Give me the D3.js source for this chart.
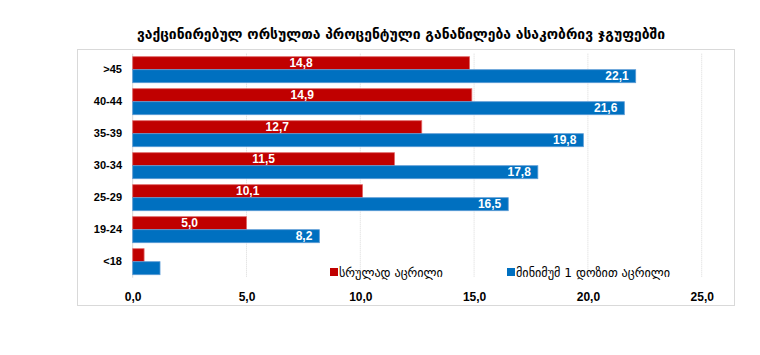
<!DOCTYPE html>
<html><head><meta charset="utf-8">
<script src="https://cdn.jsdelivr.net/npm/d3@7"></script>
<style>
html,body{margin:0;padding:0;background:#fff;}
svg text{font-family:"Liberation Sans",Arial,"DejaVu Sans",sans-serif;}
</style></head>
<body>
<svg id="c" width="760" height="355"></svg>
<script>
const title = "ვაქცინირებულ ორსულთა პროცენტული განაწილება ასაკობრივ ჯგუფებში";
const categories = [">45","40-44","35-39","30-34","25-29","19-24","<18"];
const seriesNames = ["სრულად აცრილი","მინიმუმ 1 დოზით აცრილი"];
const fullyVaccinated = [14.8,14.9,12.7,11.5,10.1,5.0,0.5];
const atLeastOneDose = [22.1,21.6,19.8,17.8,16.5,8.2,1.2];
const xTicks = [0,5,10,15,20,25];
const colors = ["#C00000","#0070C0"];
const strokes = ["#E06666","#5B9BD5"];

const svg = d3.select("#c");
const fmt = v => d3.format(".1f")(v).replace(".", ",");

// frame
svg.append("rect").attr("x",77.5).attr("y",49.5).attr("width",657).attr("height",256)
  .attr("fill","none").attr("stroke","#d9d9d9").attr("stroke-width",1);

// title
svg.append("text").attr("x",401).attr("y",39).attr("text-anchor","middle")
  .attr("font-weight","bold").attr("font-size",13.9).attr("fill","#000")
  .style("font-family","'DejaVu Sans',sans-serif")
  .text(title);

const x = d3.scaleLinear().domain([0,25]).range([132.7,701.7]);
const y = d3.scaleBand().domain(categories).range([53.7,277.7]).paddingInner(0.1875).paddingOuter(0.09375);
const sub = d3.scaleBand().domain([0,1]).range([0,y.bandwidth()]);

// gridlines
svg.append("g").selectAll("line").data(xTicks.slice(1)).join("line")
  .attr("x1",d=>x(d)).attr("x2",d=>x(d)).attr("y1",53.7).attr("y2",277.7)
  .attr("stroke","#d9d9d9").attr("stroke-dasharray","1,1");
svg.append("line").attr("x1",x(0)).attr("x2",x(0)).attr("y1",53.7).attr("y2",277.7)
  .attr("stroke","#d9d9d9");

// x axis
const xAxis = d3.axisBottom(x).tickValues(xTicks).tickFormat(fmt).tickSize(0).tickPadding(0);
const gx = svg.append("g").attr("transform","translate(0,301)").call(xAxis);
gx.select(".domain").remove();
gx.selectAll("text").attr("font-size",12).attr("font-weight","bold").attr("fill","#000").attr("dy",0)
  .style("font-family","'Liberation Sans',Arial,sans-serif");

// y axis
const yAxis = d3.axisLeft(y).tickSize(0).tickPadding(0);
const gy = svg.append("g").attr("transform","translate(122,0)").call(yAxis);
gy.select(".domain").remove();
gy.selectAll("text").attr("font-size",11).attr("font-weight","bold").attr("fill","#000")
  .style("font-family","'Liberation Sans',Arial,sans-serif");

const series = [fullyVaccinated, atLeastOneDose];
series.forEach((vals, si) => {
  const g = svg.append("g");
  g.selectAll("rect").data(vals).join("rect")
    .attr("x", x(0))
    .attr("y", (d,i) => y(categories[i]) + sub(si))
    .attr("width", d => x(d) - x(0))
    .attr("height", sub.bandwidth())
    .attr("fill", colors[si])
    .attr("stroke", strokes[si]).attr("stroke-width",0.8);
  g.selectAll("text").data(vals.map((v,i)=>({v,i})).filter(d=>d.v>=2)).join("text")
    .attr("x", d => si===0 ? (x(0)+x(d.v))/2 : x(d.v)-7)
    .attr("y", d => y(categories[d.i]) + sub(si) + sub.bandwidth()/2 + 3.5)
    .attr("text-anchor", si===0 ? "middle" : "end")
    .attr("font-size",12).attr("font-weight","bold").attr("fill","#fff")
    .style("font-family","'Liberation Sans',Arial,sans-serif")
    .text(d => fmt(d.v));
});

// legend
const legX = [330, 507];
seriesNames.forEach((n,i)=>{
  svg.append("rect").attr("x",legX[i]).attr("y",268).attr("width",8).attr("height",8).attr("fill",colors[i]);
  svg.append("text").attr("x",legX[i]+9).attr("y",277).attr("font-size",12.2).attr("fill","#000")
    .style("font-family","'DejaVu Sans',sans-serif").text(n);
});
</script>
</body></html>
